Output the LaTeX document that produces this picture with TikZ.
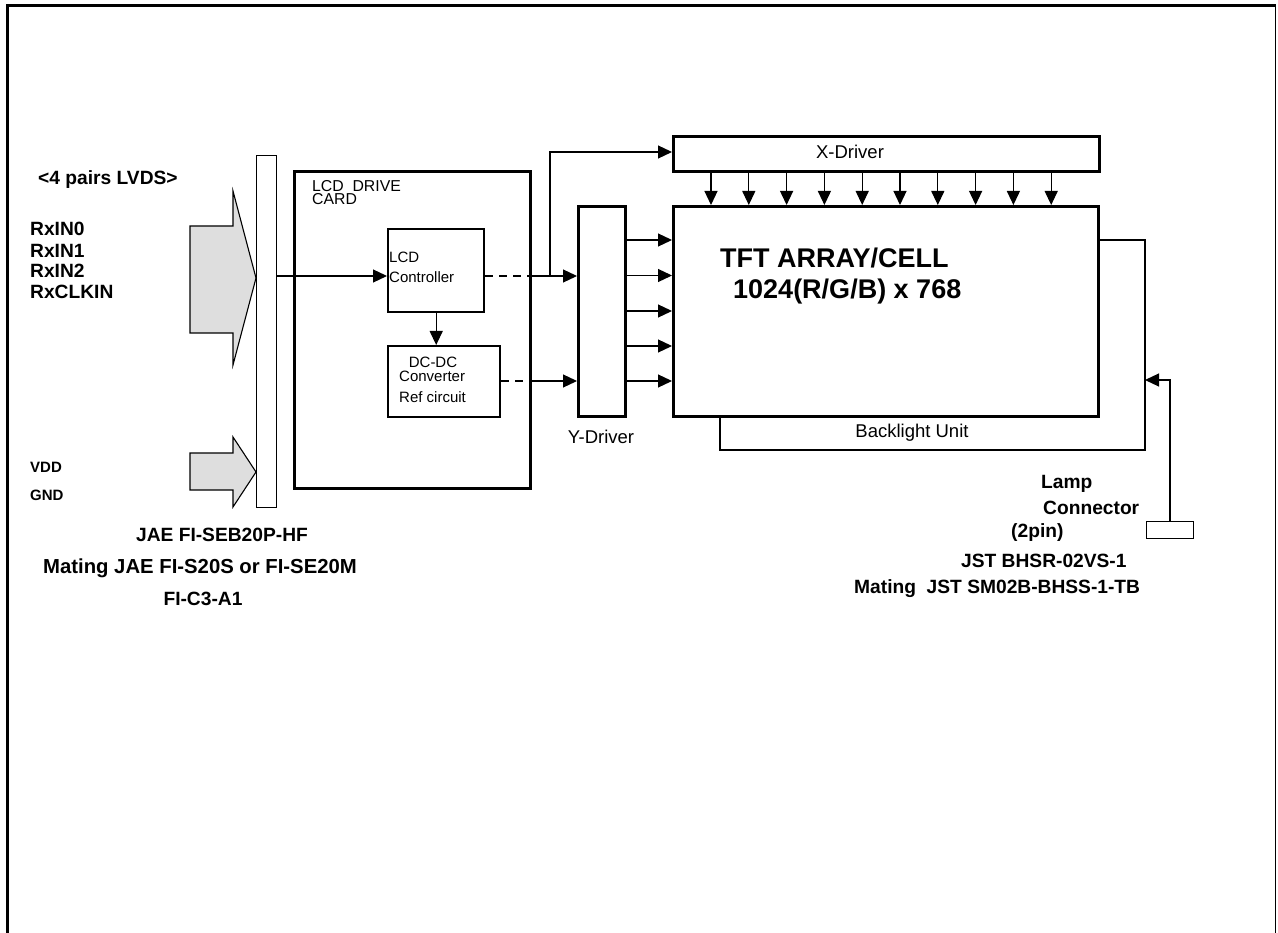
\documentclass[tikz,border=0pt]{standalone}
\usepackage{fontspec}
\setmainfont{Liberation Sans}
\usetikzlibrary{arrows.meta}
\newcommand{\fsz}[2]{\fontsize{#1}{#2}\selectfont}
\tikzset{
  box/.style={draw, line width=2.8pt, inner sep=0pt, anchor=north west},
  thinbox/.style={draw, line width=1.1pt, inner sep=0pt, anchor=north west},
  conn/.style={line width=1.2pt, -{Triangle[length=14pt,width=13pt]}},
  dashline/.style={line width=1.2pt, dash pattern=on 8pt off 6pt},
  blockarrow/.style={draw, line width=1.1pt, fill=black!13},
  lbl/.style={inner sep=0pt, font=\fsz{19.2}{21}\bfseries},
  small/.style={inner sep=0pt, font=\fsz{15}{17}},
  mid/.style={inner sep=0pt, font=\fsz{18.5}{21}},
}
\begin{document}
\begin{tikzpicture}[x=1pt,y=-1pt]
\useasboundingbox (0,0) rectangle (1278,933);
% frame
\draw[line width=3pt] (7.5,933) -- (7.5,5.5) -- (1275.5,5.5);
\draw[line width=1.2pt] (1275.5,5.5) -- (1275.5,933);

% connector bar and input arrows
\node[thinbox, minimum width=20pt, minimum height=352pt] (bar) at (256,155) {};
\draw[blockarrow] (190,226) -- (233,226) -- (233,191) -- (256,278) -- (233,365) -- (233,333) -- (190,333) -- cycle;
\draw[blockarrow] (190,453) -- (233,453) -- (233,437) -- (256,472) -- (233,507) -- (233,490) -- (190,490) -- cycle;

% left labels
\node[lbl, anchor=west] (lvds) at (38,180) {<4 pairs LVDS>};
\node[lbl, anchor=west] (rx0) at (30,229) {RxIN0};
\node[lbl, anchor=west] (rx1) at (30,250.5) {RxIN1};
\node[lbl, anchor=west] (rx2) at (30,271) {RxIN2};
\node[lbl, anchor=west] (rxc) at (30,292) {RxCLKIN};
\node[inner sep=0pt, font=\fsz{15}{17}\bfseries, anchor=west] (vdd) at (30,467) {VDD};
\node[inner sep=0pt, font=\fsz{15}{17}\bfseries, anchor=west] (gnd) at (30,495) {GND};
\node[lbl] (jae) at (222,535) {JAE FI-SEB20P-HF};
\node[lbl, font=\fsz{20.3}{22}\bfseries] (mat1) at (200,568) {Mating JAE FI-S20S or FI-SE20M};
\node[lbl] (mat2) at (203,599) {FI-C3-A1};

% LCD drive card
\node[box, minimum width=236pt, minimum height=317pt] (card) at (293,170) {};
\node[small, anchor=north west, align=left, font=\fsz{15.8}{13.5}] (cardlbl) at (312,180) {LCD\ \ DRIVE\\CARD};
\node[box, line width=2.4pt, minimum width=96pt, minimum height=83pt] (ctrl) at (387,228) {};
\node[small, anchor=west] (ctrl1) at (389,257) {LCD};
\node[small, anchor=west] (ctrl2) at (389,277) {Controller};
\node[box, line width=2.4pt, minimum width=112pt, minimum height=71pt] (dcdc) at (387,345) {};
\node[small] (dc1) at (433,362) {DC-DC};
\node[small, anchor=west] (dc2) at (399,376) {Converter};
\node[small, anchor=west] (dc3) at (399,397) {Ref circuit};

% drivers and panel
\node[box, minimum width=47pt, minimum height=210pt] (ydrv) at (577,205) {};
\node[mid] (ylbl) at (601,437) {Y-Driver};
\node[box, minimum width=426pt, minimum height=35pt] (xdrv) at (672,135) {};
\node[mid] (xlbl) at (850,152) {X-Driver};
\node[box, minimum width=425pt, minimum height=210pt] (tft) at (672,205) {};
\node[inner sep=0pt, font=\fsz{27}{30}\bfseries, anchor=west] (tft1) at (720,258) {TFT ARRAY/CELL};
\node[inner sep=0pt, font=\fsz{27}{30}\bfseries, anchor=west] (tft2) at (733,292) {1024(R/G/B) x 768};

% backlight unit
\coordinate (bl1) at (720,450);
\coordinate (bl2) at (1145,450);
\coordinate (bl3) at (1145,240);
\draw[line width=1.1pt] (tft.south -| bl1) -- (bl1) -- (bl2) -- (bl3) -- (tft.east |- bl3);
\node[mid] (bllbl) at (912,433) {Backlight Unit};

% lamp connector
\node[thinbox, minimum width=47pt, minimum height=17pt] (lamp) at (1146,521) {};
\coordinate (la) at (1145,380);
\draw[conn] (lamp.north) -- (lamp.north |- la) -- (la);
\node[lbl, anchor=west] (lp1) at (1041,484) {Lamp};
\node[lbl, anchor=west] (lp2) at (1043,508) {Connector};
\node[lbl, anchor=west] (lp3) at (1011,533) {(2pin)};
\node[lbl, anchor=west] (lp4) at (961,561) {JST BHSR-02VS-1};
\node[lbl, anchor=west] (lp5) at (854,589) {Mating\ \ JST SM02B-BHSS-1-TB};

% connectors
\coordinate (yin) at (0,276);
\coordinate (yin2) at (0,381);
\coordinate (br) at (550,0);
\coordinate (xin) at (0,152);
\draw[conn] (bar.east |- yin) -- (ctrl.west |- yin);
\draw[conn] (ctrl.south) -- (ctrl.south |- dcdc.north);
\draw[dashline] (ctrl.east |- yin) -- (card.east |- yin);
\draw[conn] (card.east |- yin) -- (ydrv.west |- yin);
\draw[conn] (br |- yin) -- (br |- xin) -- (xdrv.west |- xin);
\draw[dashline] (dcdc.east |- yin2) -- (card.east |- yin2);
\draw[conn] (card.east |- yin2) -- (ydrv.west |- yin2);
\foreach \yy [count=\k] in {240,275.5,311,346,381} {
  \coordinate (yo\k) at (0,\yy);
  \draw[conn] (ydrv.east |- yo\k) -- (tft.west |- yo\k);
}
\foreach \i in {0,...,9} {
  \coordinate (xa\i) at ({711+37.8*\i},0);
  \draw[conn] (xdrv.south -| xa\i) -- (tft.north -| xa\i);
}
\end{tikzpicture}
\end{document}
